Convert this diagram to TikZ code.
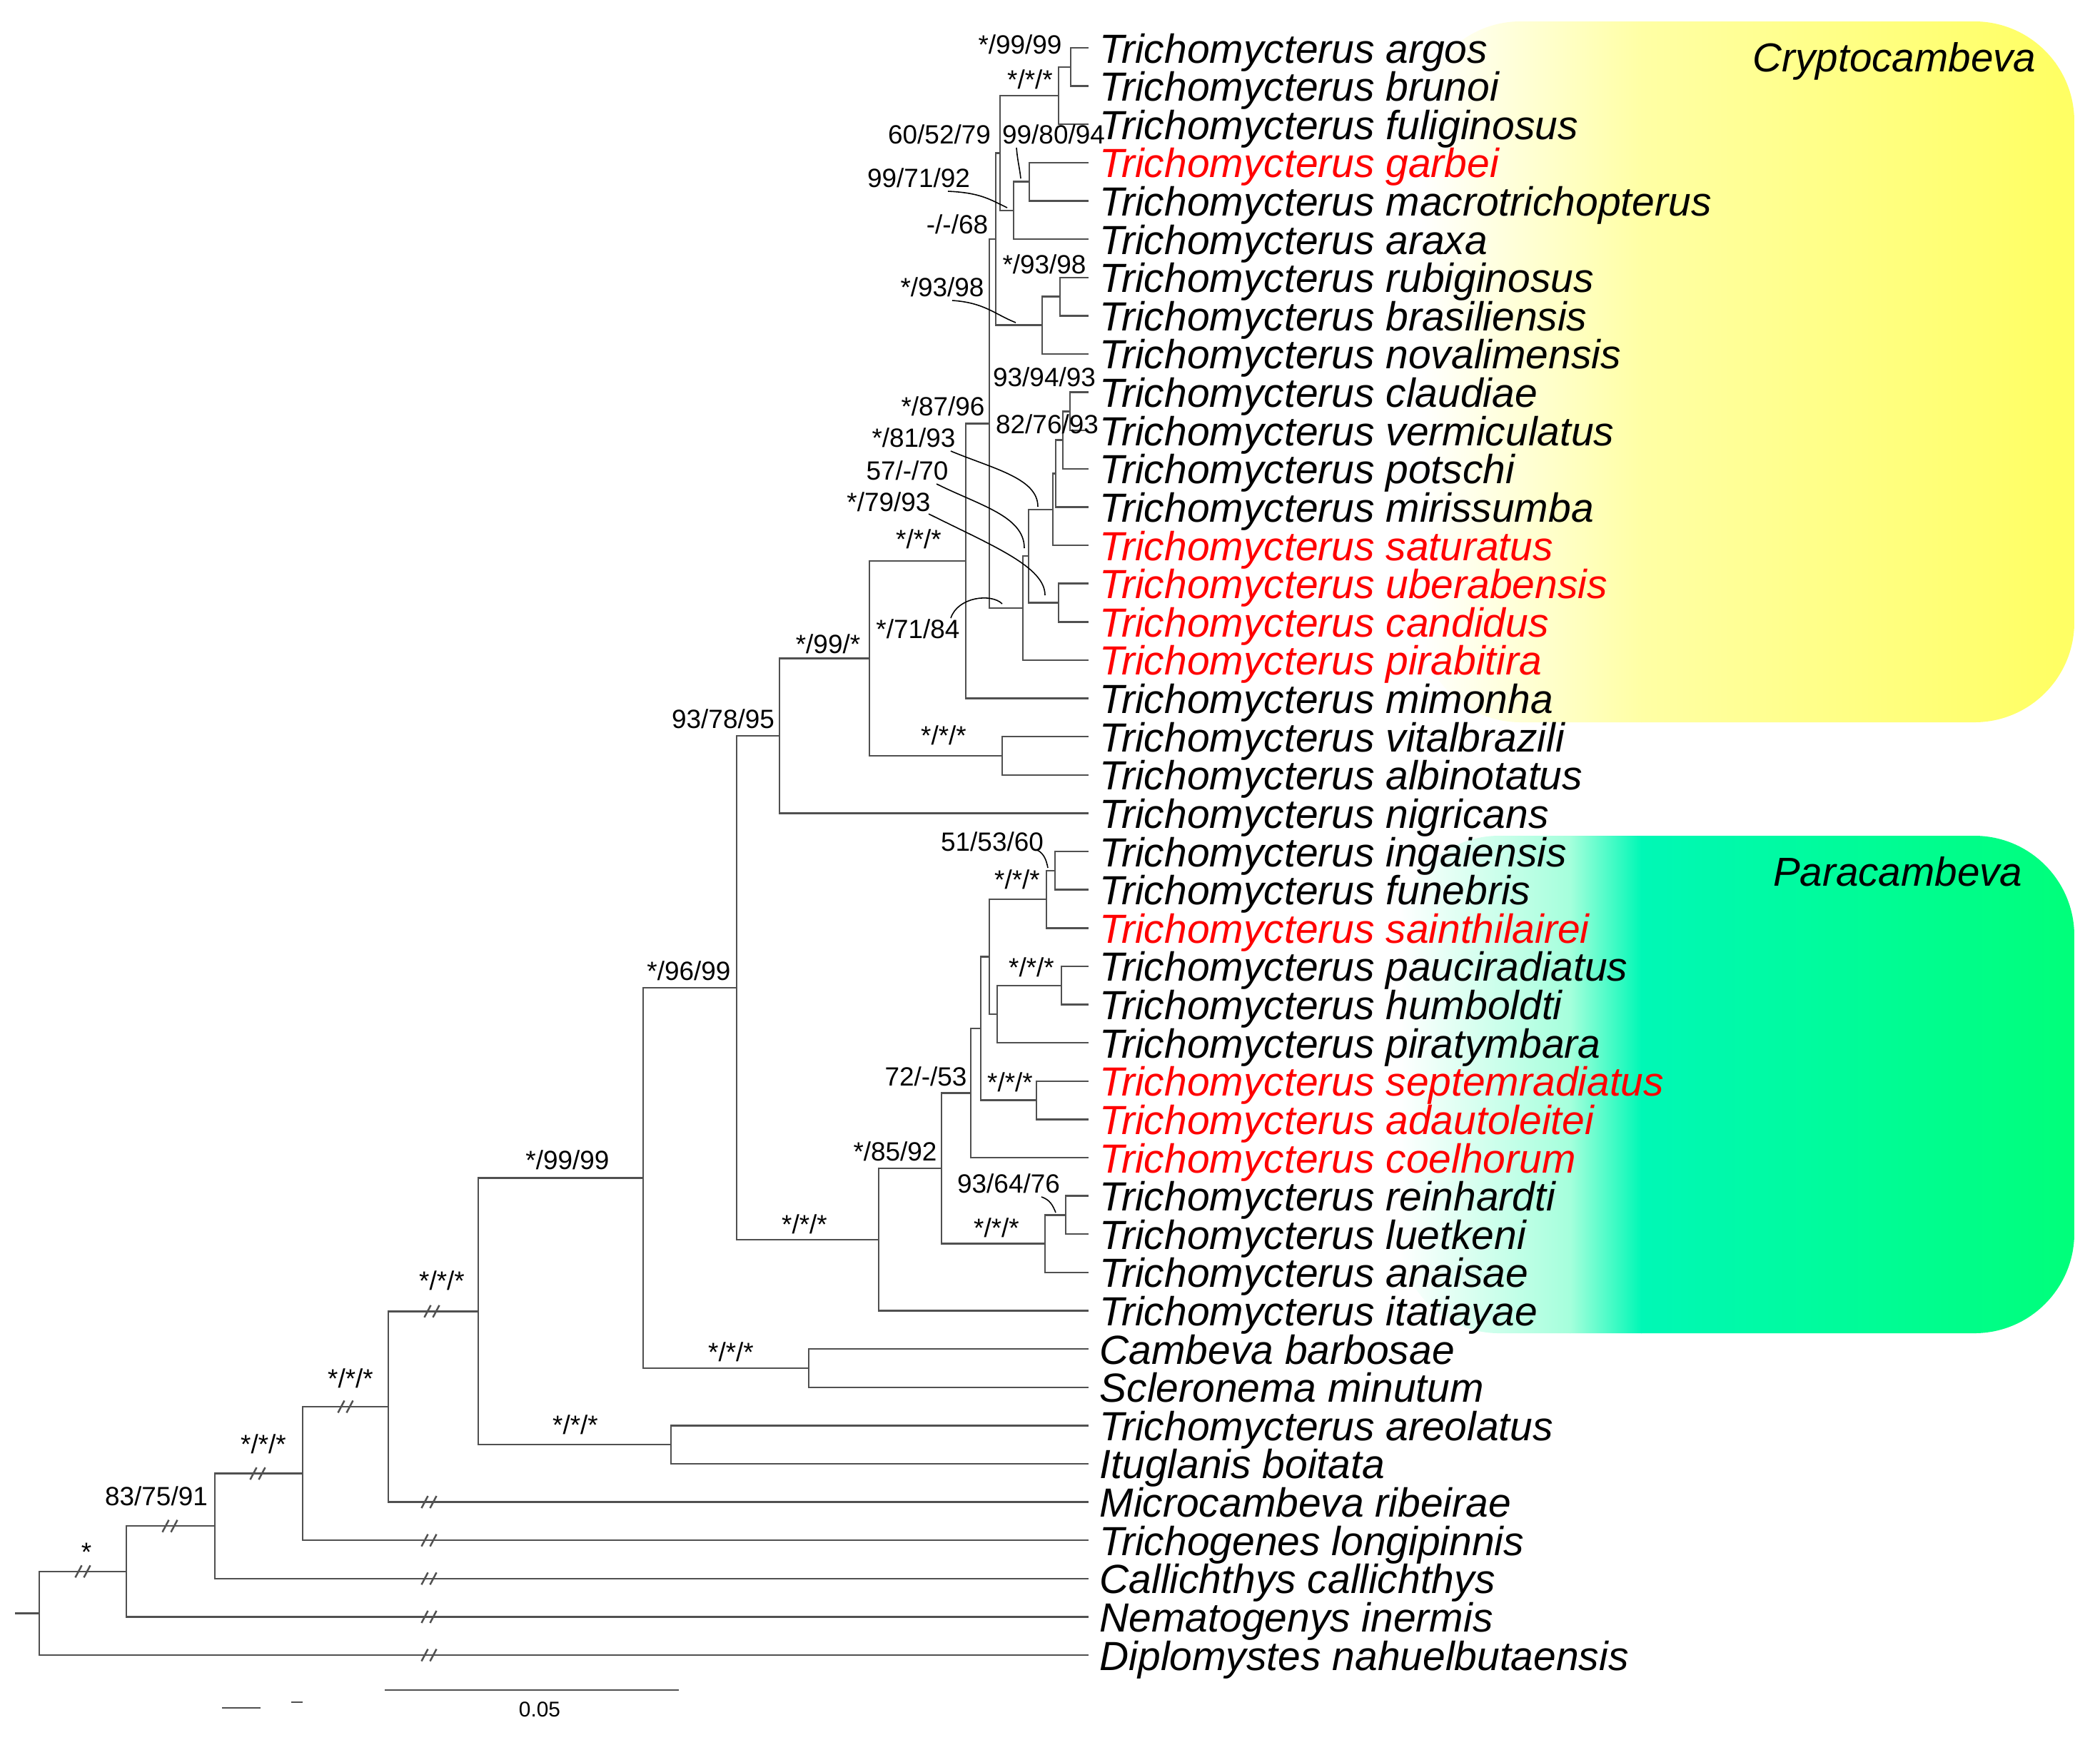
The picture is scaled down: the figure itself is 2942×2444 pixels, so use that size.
\documentclass[tikz,border=0pt]{standalone}
\usepackage{fontspec}
\setmainfont{Liberation Sans}
\usetikzlibrary{calc}
\definecolor{branchgray}{RGB}{80,80,80}
\definecolor{cryptopale}{RGB}{255,255,165}
\definecolor{cryptoyellow}{RGB}{255,255,100}
\definecolor{paramint}{RGB}{165,255,220}
\definecolor{paracyan}{RGB}{0,248,182}
\definecolor{paragreen}{RGB}{0,255,122}

\begin{document}
\begin{tikzpicture}[x=0.01cm,y=-0.01cm,
  br/.style={draw=branchgray,line width=0.7pt},
  taxon/.style={anchor=base west,inner sep=0pt,font=\fontsize{16.2}{16.2}\selectfont\itshape},
  clade/.style={anchor=base east,inner sep=0pt,font=\fontsize{16.1}{16.1}\selectfont\itshape},
  sup/.style={anchor=base,inner sep=0pt,font=\fontsize{10.5}{10.5}\selectfont},
  lead/.style={draw=black,line width=0.45pt},
  brk/.pic={\draw[br] (-10.5,8.5) -- (-1.5,-8.5) (1.5,8.5) -- (10.5,-8.5);}]
\useasboundingbox (0,0) rectangle (2942,2444);
\fill[white] (0,0) rectangle (2942,2444);

% clade boxes
\begin{scope}
  \clip[rounded corners=1.4cm] (1990,30) rectangle (2906,1012);
  \shade[left color=white,right color=cryptopale] (1990,30) rectangle (2300,1012);
  \shade[left color=cryptopale,right color=cryptoyellow] (2299,30) rectangle (2880,1012);
  \fill[cryptoyellow] (2879,30) rectangle (2906,1012);
\end{scope}
\begin{scope}
  \clip[rounded corners=1.4cm] (1960,1171) rectangle (2906,1868);
  \shade[left color=white,right color=paramint] (1960,1171) rectangle (2200,1868);
  \shade[left color=paramint,right color=paracyan] (2199,1171) rectangle (2300,1868);
  \shade[left color=paracyan,right color=paragreen] (2299,1171) rectangle (2906,1868);
\end{scope}
\node[clade] (crypto) at (2853,100) {Cryptocambeva};
\node[clade] (para) at (2834,1241) {Paracambeva};

% taxa
\foreach \nm/\tc [count=\i from 0] in {
  Trichomycterus argos/black, Trichomycterus brunoi/black,
  Trichomycterus fuliginosus/black, Trichomycterus garbei/red,
  Trichomycterus macrotrichopterus/black, Trichomycterus araxa/black,
  Trichomycterus rubiginosus/black, Trichomycterus brasiliensis/black,
  Trichomycterus novalimensis/black, Trichomycterus claudiae/black,
  Trichomycterus vermiculatus/black, Trichomycterus potschi/black,
  Trichomycterus mirissumba/black, Trichomycterus saturatus/red,
  Trichomycterus uberabensis/red, Trichomycterus candidus/red,
  Trichomycterus pirabitira/red, Trichomycterus mimonha/black,
  Trichomycterus vitalbrazili/black, Trichomycterus albinotatus/black,
  Trichomycterus nigricans/black, Trichomycterus ingaiensis/black,
  Trichomycterus funebris/black, Trichomycterus sainthilairei/red,
  Trichomycterus pauciradiatus/black, Trichomycterus humboldti/black,
  Trichomycterus piratymbara/black, Trichomycterus septemradiatus/red,
  Trichomycterus adautoleitei/red, Trichomycterus coelhorum/red,
  Trichomycterus reinhardti/black, Trichomycterus luetkeni/black,
  Trichomycterus anaisae/black, Trichomycterus itatiayae/black,
  Cambeva barbosae/black, Scleronema minutum/black,
  Trichomycterus areolatus/black, Ituglanis boitata/black,
  Microcambeva ribeirae/black, Trichogenes longipinnis/black,
  Callichthys callichthys/black, Nematogenys inermis/black,
  Diplomystes nahuelbutaensis/black}{
  \coordinate (t\i) at (1525,{67+53.62*\i});
  \node[taxon,text=\tc] (n\i) at (1540,{88+53.62*\i}) {\nm};
}

% internal nodes
\coordinate (BA) at (1500,93.8);
\coordinate (BB) at (1483,134.0);
\coordinate (BE) at (1442,254.7);
\coordinate (BD) at (1420,294.9);
\coordinate (BC) at (1401,214.5);
\coordinate (BH) at (1485,415.5);
\coordinate (BG) at (1460,455.7);
\coordinate (BF) at (1395,335.1);
\coordinate (AG) at (1499,576.4);
\coordinate (AF) at (1489,616.6);
\coordinate (AE) at (1479,663.5);
\coordinate (AD) at (1475,713.8);
\coordinate (AC) at (1483,844.5);
\coordinate (AB) at (1441,779.1);
\coordinate (AA) at (1433,852.0);
\coordinate (Z) at (1386,593.6);
\coordinate (Y) at (1353,786.0);
\coordinate (X) at (1404,1059.0);
\coordinate (W) at (1218,922.5);
\coordinate (V) at (1092,1031.0);
\coordinate (S) at (1478,1219.8);
\coordinate (R) at (1466,1260.0);
\coordinate (U) at (1487,1380.7);
\coordinate (T) at (1397,1420.9);
\coordinate (Q) at (1386,1340.5);
\coordinate (P) at (1452,1541.6);
\coordinate (O) at (1374,1441.0);
\coordinate (N) at (1360,1531.5);
\coordinate (M) at (1493,1702.4);
\coordinate (L) at (1464,1742.6);
\coordinate (K) at (1319,1637.0);
\coordinate (J) at (1231,1736.8);
\coordinate (I) at (1032,1383.9);
\coordinate (H) at (1133,1916.9);
\coordinate (G) at (901,1650.4);
\coordinate (F) at (940,2024.1);
\coordinate (E) at (670,1837.3);
\coordinate (D) at (544,1970.9);
\coordinate (C) at (424,2064.6);
\coordinate (B) at (301,2138.2);
\coordinate (A) at (177,2201.8);
\coordinate (root) at (55,2260.4);
\coordinate (base) at (21,2260.4);

% branches
\draw[br] (BA) |- (t0) (BA) |- (t1) (BB) |- (BA) (BB) |- (t2)
  (BE) |- (t3) (BE) |- (t4) (BD) |- (BE) (BD) |- (t5)
  (BC) |- (BB) (BC) |- (BD) (BH) |- (t6) (BH) |- (t7)
  (BG) |- (BH) (BG) |- (t8) (BF) |- (BC) (BF) |- (BG)
  (AG) |- (t9) (AG) |- (t10) (AF) |- (AG) (AF) |- (t11)
  (AE) |- (AF) (AE) |- (t12) (AD) |- (AE) (AD) |- (t13)
  (AC) |- (t14) (AC) |- (t15) (AB) |- (AD) (AB) |- (AC)
  (AA) |- (AB) (AA) |- (t16) (Z) |- (BF) (Z) |- (AA)
  (Y) |- (Z) (Y) |- (t17) (X) |- (t18) (X) |- (t19)
  (W) |- (Y) (W) |- (X) (V) |- (W) (V) |- (t20)
  (S) |- (t21) (S) |- (t22) (R) |- (S) (R) |- (t23)
  (U) |- (t24) (U) |- (t25) (T) |- (U) (T) |- (t26)
  (Q) |- (R) (Q) |- (T) (P) |- (t27) (P) |- (t28)
  (O) |- (Q) (O) |- (P) (N) |- (O) (N) |- (t29)
  (M) |- (t30) (M) |- (t31) (L) |- (M) (L) |- (t32)
  (K) |- (N) (K) |- (L) (J) |- (K) (J) |- (t33)
  (I) |- (V) (I) |- (J) (H) |- (t34) (H) |- (t35)
  (G) |- (I) (G) |- (H) (F) |- (t36) (F) |- (t37)
  (E) |- (G) (E) |- (F) (D) |- (E) (D) |- (t38)
  (C) |- (D) (C) |- (t39) (B) |- (C) (B) |- (t40)
  (A) |- (B) (A) |- (t41) (root) |- (A) (root) |- (t42)
  (base) -- (root);

% broken branches
\foreach \bx/\by in {116/2201.8, 238/2138.2, 361/2064.6, 484/1970.9, 605/1837.3,
  601/2104.56, 601/2158.18, 601/2211.8, 601/2265.42, 601/2319.04}
  \pic at (\bx,\by) {brk};

% support values
\node[sup] (s-BA) at (1429,75) {*/99/99};
\node[sup] (s-BB) at (1443,124) {*/*/*};
\node[sup] (s-BC) at (1316,201) {60/52/79};
\node[sup] (s-BE) at (1476,201) {99/80/94};
\node[sup] (s-BD) at (1287,262) {99/71/92};
\node[sup] (s-BF) at (1341,327) {-/-/68};
\node[sup] (s-BH) at (1463,383) {*/93/98};
\node[sup] (s-BG) at (1320,415) {*/93/98};
\node[sup] (s-AG) at (1463,541) {93/94/93};
\node[sup] (s-Z) at (1321,582) {*/87/96};
\node[sup] (s-AF) at (1467,607) {82/76/93};
\node[sup] (s-AD) at (1280,626) {*/81/93};
\node[sup] (s-AB) at (1271,672) {57/-/70};
\node[sup] (s-AC) at (1245,716) {*/79/93};
\node[sup] (s-Y) at (1287,768) {*/*/*};
\node[sup] (s-AA) at (1286,894) {*/71/84};
\node[sup] (s-W) at (1160,915) {*/99/*};
\node[sup] (s-V) at (1013,1020) {93/78/95};
\node[sup] (s-X) at (1322,1043) {*/*/*};
\node[sup] (s-S) at (1390,1192) {51/53/60};
\node[sup] (s-R) at (1425,1245) {*/*/*};
\node[sup] (s-U) at (1445,1368) {*/*/*};
\node[sup] (s-I) at (965,1373) {*/96/99};
\node[sup] (s-N) at (1297,1521) {72/-/53};
\node[sup] (s-P) at (1415,1529) {*/*/*};
\node[sup] (s-K) at (1254,1626) {*/85/92};
\node[sup] (s-M) at (1413,1671) {93/64/76};
\node[sup] (s-L) at (1396,1733) {*/*/*};
\node[sup] (s-J) at (1127,1728) {*/*/*};
\node[sup] (s-G) at (795,1638) {*/99/99};
\node[sup] (s-H) at (1024,1907) {*/*/*};
\node[sup] (s-F) at (806,2009) {*/*/*};
\node[sup] (s-E) at (619,1807) {*/*/*};
\node[sup] (s-D) at (491,1944) {*/*/*};
\node[sup] (s-C) at (369,2036) {*/*/*};
\node[sup] (s-B) at (219,2109) {83/75/91};
\node[sup] (s-A) at (121,2187) {*};

% leader lines
\coordinate (e-BE) at (1430,250);
\coordinate (e-BD) at (1411,291);
\coordinate (e-BG) at (1423,452);
\coordinate (e-AD) at (1454,710);
\coordinate (e-AB) at (1435,768);
\coordinate (e-AC) at (1464,834);
\coordinate (e-AA) at (1404,846);
\coordinate (e-S) at (1468,1216);
\coordinate (e-M) at (1479,1699);
\draw[lead] ([shift={(-52,6)}]s-BE.base) .. controls +(2,22) and +(-2,-18) .. (e-BE);
\draw[lead] ([shift={(41,6)}]s-BD.base) .. controls +(45,2) and +(-25,-12) .. (e-BD);
\draw[lead] ([shift={(14,6)}]s-BG.base) .. controls +(45,3) and +(-30,-12) .. (e-BG);
\draw[lead] ([shift={(52,6)}]s-AD.base) .. controls +(60,25) and +(0,-40) .. (e-AD);
\draw[lead] ([shift={(41,6)}]s-AB.base) .. controls +(60,30) and +(0,-45) .. (e-AB);
\draw[lead] ([shift={(56,4)}]s-AC.base) .. controls +(90,45) and +(0,-40) .. (e-AC);
\draw[lead] ([shift={(46,-28)}]s-AA.base) .. controls +(10,-30) and +(-15,-15) .. (e-AA);
\draw[lead] ([shift={(63,-1)}]s-S.base) .. controls +(10,5) and +(-2,-10) .. (e-S);
\draw[lead] ([shift={(46,6)}]s-M.base) .. controls +(12,4) and +(-4,-10) .. (e-M);

% scale
\draw[br,line width=0.8pt] (539,2368) -- (951,2368);
\node[sup,font=\fontsize{8.5}{8.5}\selectfont] (scl) at (756,2405) {0.05};
\draw[br] (311,2393) -- (365,2393);
\draw[br] (408,2385) -- (424,2385);
\end{tikzpicture}
\end{document}
